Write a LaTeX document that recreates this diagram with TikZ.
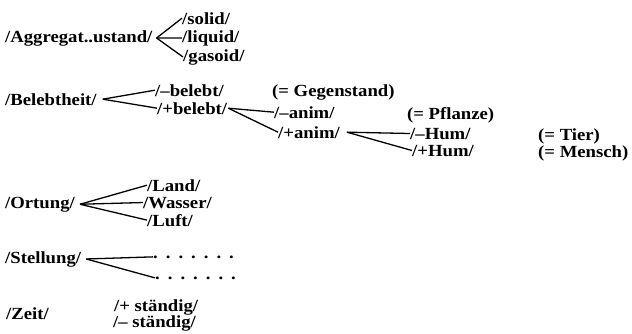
\documentclass[tikz,border=0pt]{standalone}
\usepackage{fontspec}
\setmainfont[FakeStretch=1.1]{Liberation Serif}
\usepackage{tikz}
\usetikzlibrary{positioning}

\tikzset{
  feat/.style={anchor=base west, inner sep=0pt, font=\fontsize{17bp}{19bp}\selectfont\bfseries},
  fork/.style={line width=1.3bp},
}
\newcommand\dotrow{.\hspace{8bp}.\hspace{8bp}.\hspace{8bp}.\hspace{8bp}.\hspace{8bp}.\hspace{8bp}.}

\begin{document}
\begin{tikzpicture}[x=1bp,y=-1bp]
        \useasboundingbox (0,0) rectangle (632,333);
        % Aggregatzustand
        \node[feat] (agg) at (5,42) {/Aggregat..ustand/};
        \coordinate[right=4bp of agg] (aggfork);
        \node[feat] (solid) at (182,24) {/solid/};
        \node[feat] (liquid) at (182,42) {/liquid/};
        \node[feat] (gasoid) at (183,61) {/gasoid/};
        \foreach \c in {solid,liquid,gasoid}
          \draw[fork] (aggfork) -- (\c.west);
        % Belebtheit
        \node[feat] (bel) at (5,105) {/Belebtheit/};
        \coordinate[right=6bp of bel] (belfork);
        \node[feat] (mbel) at (155,96) {/--belebt/};
        \node[feat] (pbel) at (157,114) {/+belebt/};
        \node[feat] (gegen) at (272,96) {(= Gegenstand)};
        \draw[fork] (belfork) -- (mbel.west);
        \draw[fork] (belfork) -- (pbel.west);
        \coordinate[right=1bp of pbel] (pbelfork);
        \node[feat] (manim) at (274,118) {/--anim/};
        \node[feat] (panim) at (278,138) {/+anim/};
        \node[feat] (pflanze) at (407,119) {(= Pflanze)};
        \draw[fork] (pbelfork) -- (manim.west);
        \draw[fork] (pbelfork) -- (panim.west);
        \coordinate[right=7bp of panim] (panimfork);
        \node[feat] (mhum) at (410,139) {/--Hum/};
        \node[feat] (phum) at (412,156) {/+Hum/};
        \node[feat] (tier) at (538,140) {(= Tier)};
        \node[feat] (mensch) at (538,157) {(= Mensch)};
        \draw[fork] (panimfork) -- (mhum.west);
        \draw[fork] (panimfork) -- (phum.west);
        % Ortung
        \node[feat] (ort) at (5,208) {/Ortung/};
        \coordinate[right=5bp of ort] (ortfork);
        \node[feat] (land) at (147,191) {/Land/};
        \node[feat] (wasser) at (143,208) {/Wasser/};
        \node[feat] (luft) at (147,226) {/Luft/};
        \foreach \c in {land,wasser,luft}
          \draw[fork] (ortfork) -- (\c.west);
        % Stellung
        \node[feat] (stell) at (5,263) {/Stellung/};
        \coordinate[right=5bp of stell] (stellfork);
        \node[feat] (dotsA) at (153,258) {\dotrow};
        \node[feat] (dotsB) at (155,279) {\dotrow};
        \draw[fork] (stellfork) -- (dotsA.west);
        \draw[fork] (stellfork) -- (dotsB.west);
        % Zeit
        \node[feat] (zeit) at (6,319) {/Zeit/};
        \node[feat] (pst) at (114,311) {/+ ständig/};
        \node[feat] (mst) at (113,327) {/-- ständig/};
\end{tikzpicture}
\end{document}
